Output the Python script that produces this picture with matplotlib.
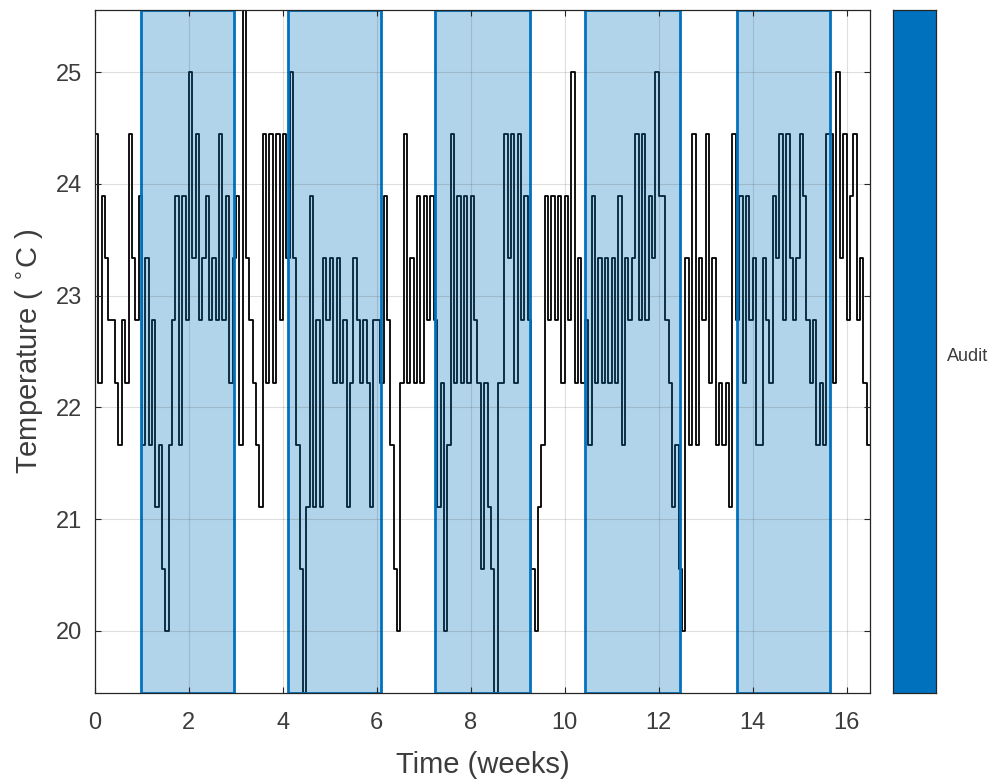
import numpy as np
import matplotlib
matplotlib.use("Agg")
from matplotlib import pyplot as plt

plt.rcParams['font.family'] = ['Liberation Sans', 'DejaVu Sans']

# temperature readings, deg F, one every 12 hours
temp_f = [
    76, 72, 75, 74, 73, 73, 72, 71, 73, 72, 76, 74, 73, 75, 71, 74, 71, 73, 70, 71,
    69, 68, 71, 73, 75, 71, 75, 73, 77, 74, 76, 73, 74, 75, 73, 74, 73, 76, 73, 75,
    72, 74, 75, 71, 78, 74, 73, 72, 71, 70, 76, 72, 76, 72, 76, 73, 76, 74, 77, 74,
    71, 69, 67, 70, 75, 70, 73, 70, 74, 73, 74, 72, 74, 72, 73, 70, 72, 74, 73, 72,
    73, 72, 70, 73, 73, 72, 75, 73, 71, 69, 68, 72, 76, 72, 74, 72, 75, 72, 75, 73,
    75, 73, 70, 72, 68, 71, 76, 72, 75, 72, 75, 72, 75, 73, 72, 69, 72, 70, 69, 67,
    72, 72, 76, 74, 76, 72, 76, 73, 75, 73, 69, 68, 70, 71, 75, 73, 75, 73, 75, 72,
    75, 73, 77, 72, 74, 72, 73, 71, 75, 72, 74, 72, 74, 72, 74, 72, 75, 71, 74, 73,
    74, 76, 73, 76, 73, 75, 74, 77, 75, 75, 73, 72, 70, 71, 69, 68, 74, 71, 76, 71,
    74, 73, 76, 72, 74, 71, 72, 71, 72, 70, 76, 73, 75, 72, 75, 73, 74, 71, 71, 74,
    73, 72, 75, 74, 76, 73, 76, 74, 73, 74, 76, 75, 73, 72, 73, 71, 72, 71, 76, 76,
    72, 77, 74, 76, 73, 75, 76, 73, 74, 72, 71, 71,
]
sample_hours = 12

# audit periods (weeks)
audit_start = [0.98, 4.11, 7.24, 10.44, 13.66]
audit_end = [2.96, 6.09, 9.27, 12.46, 15.64]

xticks = [0, 2, 4, 6, 8, 10, 12, 14, 16]
yticks = [20, 21, 22, 23, 24, 25]

blue = '#0072BD'
dark = '#262626'
txt = '#3c3c3c'

temp_c = (np.array(temp_f) - 32) * 5 / 9
t = np.arange(len(temp_c)) * sample_hours / (24 * 7)

fig = plt.figure(figsize=(10.05, 7.81), dpi=100)
ax = fig.add_axes([0.0945, 0.1127, 0.7712, 0.8745])

ax.step(t, temp_c, where='post', color='k', lw=1.3, zorder=1)

for s, e in zip(audit_start, audit_end):
    ax.axvspan(s, e, facecolor=blue, alpha=0.3, edgecolor='none', zorder=1.5)
    ax.axvspan(s, e, facecolor='none', edgecolor=blue, lw=2, zorder=1.6)

ax.set_xlim(0, 16.5)
ax.set_ylim((67 - 32) * 5 / 9, (78 - 32) * 5 / 9)
ax.set_xticks(xticks)
ax.set_yticks(yticks)
ax.grid(True, color=dark, alpha=0.15, lw=0.8)
ax.set_axisbelow(False)
ax.tick_params(direction='in', top=True, right=True, labelsize=17,
               color=dark, labelcolor=txt, length=4)
ax.tick_params(axis='x', pad=14)
ax.tick_params(axis='y', pad=9)
for sp in ax.spines.values():
    sp.set_color(dark)
    sp.set_linewidth(0.9)
ax.set_xlabel('Time (weeks)', fontsize=21, color=txt, labelpad=12)
ax.set_ylabel(r'Temperature ( $^{\circ}$C )', fontsize=21, color=txt, labelpad=8)

# side panel
cax = fig.add_axes([0.8886, 0.1127, 0.0428, 0.8745])
cax.set_facecolor(blue)
cax.set_xticks([])
cax.set_yticks([])
for sp in cax.spines.values():
    sp.set_color(dark)
    sp.set_linewidth(0.9)
fig.text(0.942, 0.543, 'Audit', fontsize=13, color=txt, va='center', ha='left')

fig.savefig('out.png', dpi=100)
